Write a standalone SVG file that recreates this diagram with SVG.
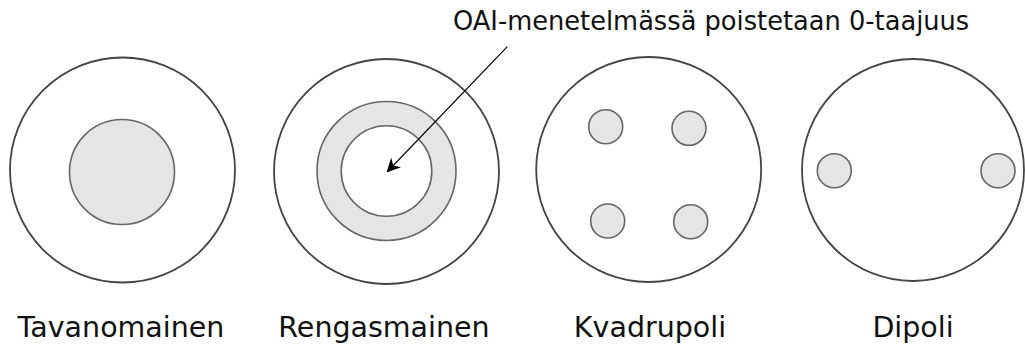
<svg xmlns="http://www.w3.org/2000/svg" width="1025" height="347" viewBox="0 0 1025 347">
<defs>
<style>
.outer{fill:#fff;stroke:#444;stroke-width:1.8}
.spot{fill:#e5e5e5;stroke:#666;stroke-width:1.6}
.hole{fill:#fff;stroke:#666;stroke-width:1.6}
.lbl{font-family:"DejaVu Sans",Verdana,sans-serif;font-size:28.5px;fill:#111;text-anchor:middle}
.note{font-family:"DejaVu Sans",Verdana,sans-serif;font-size:25.7px;fill:#111}
</style>
<marker id="ah" viewBox="0 0 10 10" refX="9" refY="5" markerWidth="14" markerHeight="14" markerUnits="userSpaceOnUse" orient="auto">
<path d="M0,0 L10,5 L0,10 L3,5 Z" fill="#000"/>
</marker>
</defs>
<rect width="1025" height="347" fill="#fff"/>
<g id="tavanomainen">
<circle class="outer" cx="122.5" cy="170" r="112.5"/>
<circle class="spot" cx="122" cy="172" r="52.5"/>
<text class="lbl" x="121" y="337">Tavanomainen</text>
</g>
<g id="rengasmainen">
<circle class="outer" cx="386.5" cy="171.5" r="112.5"/>
<circle class="spot" cx="386.5" cy="171" r="69.5"/>
<circle class="hole" cx="386.5" cy="171" r="45.3"/>
<text class="lbl" x="384" y="337">Rengasmainen</text>
</g>
<g id="kvadrupoli">
<circle class="outer" cx="648.7" cy="169.5" r="112.5"/>
<circle class="spot" cx="605.7" cy="126.7" r="17"/>
<circle class="spot" cx="689" cy="128.3" r="17"/>
<circle class="spot" cx="607.7" cy="221" r="17"/>
<circle class="spot" cx="690.7" cy="221.7" r="17"/>
<text class="lbl" x="650" y="337">Kvadrupoli</text>
</g>
<g id="dipoli">
<circle class="outer" cx="913" cy="170" r="111"/>
<circle class="spot" cx="834.3" cy="170.7" r="17"/>
<circle class="spot" cx="998" cy="170.7" r="17"/>
<text class="lbl" x="913" y="337">Dipoli</text>
</g>
<g id="note">
<text class="note" x="453" y="30">OAI-menetelmässä poistetaan 0-taajuus</text>
</g>
<g id="connectors">
<line x1="507.3" y1="46.7" x2="387.5" y2="171.5" stroke="#000" stroke-width="1.2" marker-end="url(#ah)"/>
</g>
</svg>
